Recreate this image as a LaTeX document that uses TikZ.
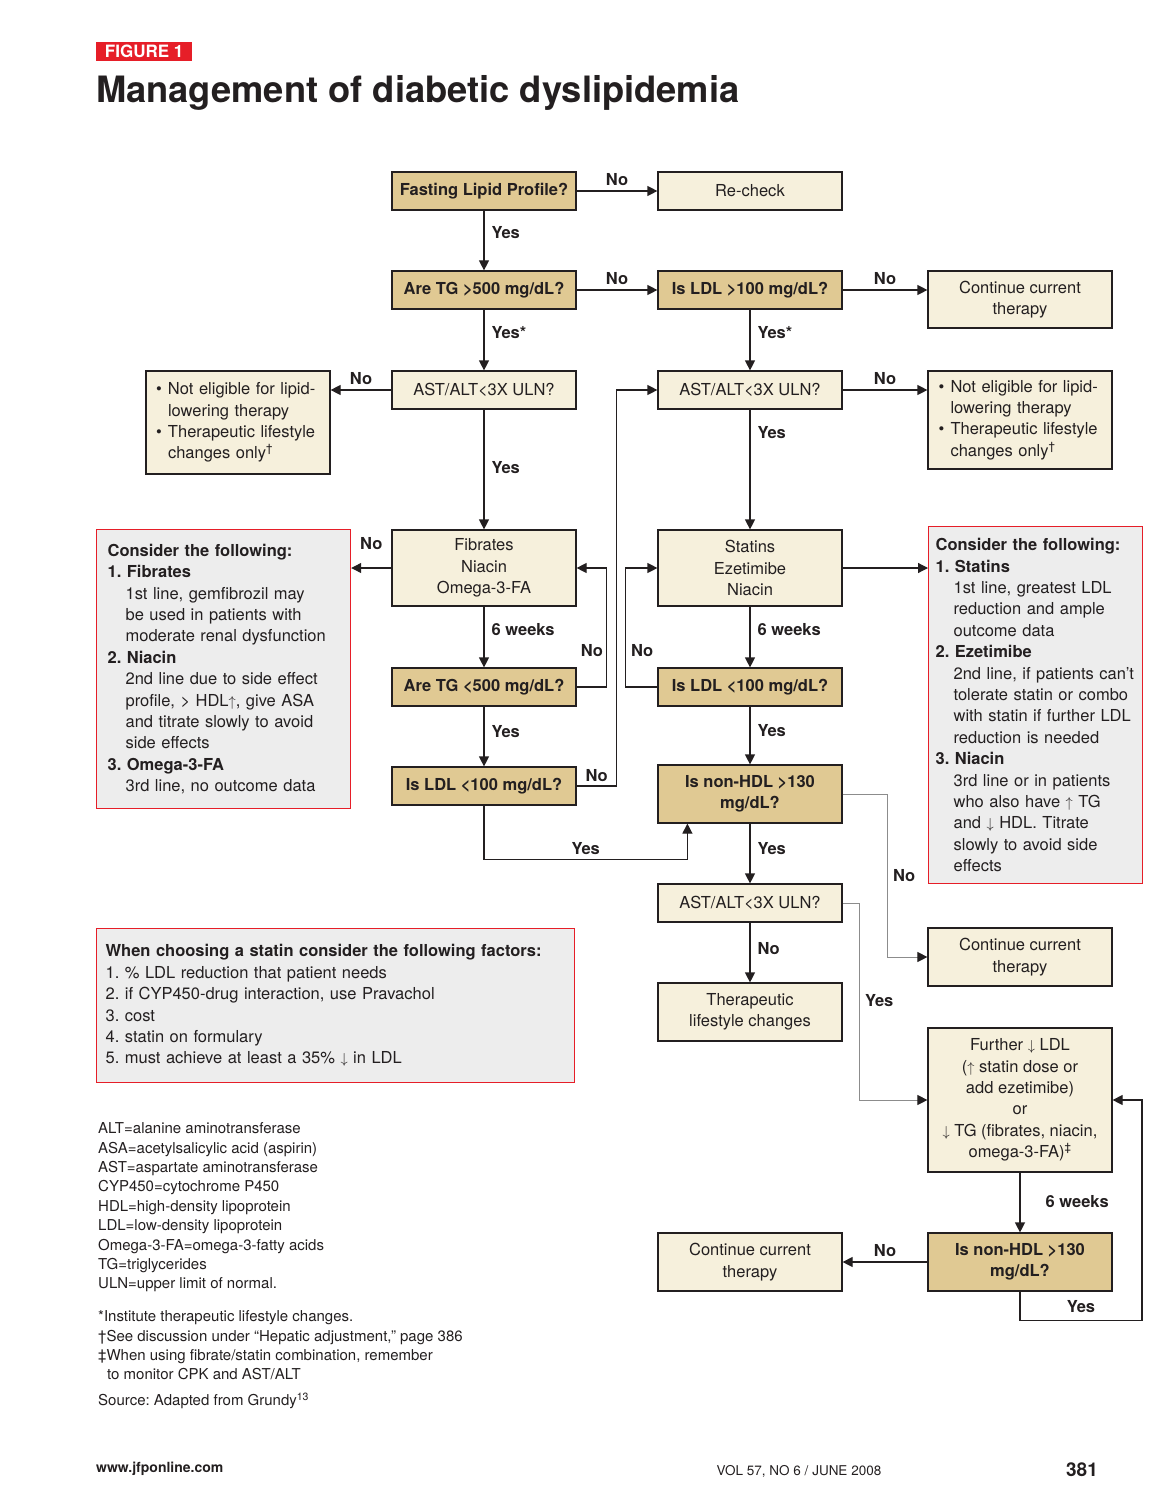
\documentclass[tikz,border=0pt]{standalone}
\usepackage{fontspec}
\setmainfont{TeX Gyre Heros}
\usetikzlibrary{positioning,calc,arrows.meta}
\frenchspacing

\definecolor{ink}{RGB}{35,31,32}
\definecolor{tanbox}{RGB}{224,201,147}
\definecolor{cream}{RGB}{246,240,220}
\definecolor{notegray}{RGB}{237,237,237}
\definecolor{redline}{RGB}{230,30,40}
\definecolor{softgray}{RGB}{140,140,140}

\newcommand{\arrup}{{\fontsize{15}{15}\selectfont$\uparrow$}}
\newcommand{\arrdn}{{\fontsize{15}{15}\selectfont$\downarrow$}}
\newcommand{\bul}{\makebox[12pt][l]{\textbullet}}
\newcommand{\subind}{\hspace*{18pt}}

\begin{document}
\begin{tikzpicture}[
    x=1pt, y=-1pt,
    box/.style={draw=ink, line width=1.2pt, inner sep=2pt, align=center, text=ink,
        minimum width=184pt, minimum height=38pt, font=\fontsize{16.5}{21.4}\selectfont},
    ask/.style={box, fill=tanbox, font=\fontsize{16.5}{21.4}\selectfont\bfseries},
    act/.style={box, fill=cream},
    note/.style={draw=redline, line width=1.2pt, fill=notegray, anchor=north west, align=left,
        text=ink, inner ysep=0pt, font=\fontsize{16.5}{21.4}\selectfont},
    arr/.style={draw=ink, line width=1.2pt, -{Triangle[length=10pt,width=10pt]}},
    soft/.style={draw=softgray, line width=1pt, -{Triangle[length=10pt,width=10pt,color=ink]}},
    lbl/.style={font=\fontsize{16.5}{20}\selectfont\bfseries, text=ink, inner sep=3pt},
    small/.style={anchor=north west, inner sep=0pt, align=left, text=ink, font=\fontsize{15}{19.4}\selectfont}
]
\useasboundingbox (0,0) rectangle (1160,1503);

% Heading
\node[fill=redline, text=white, font=\fontsize{17}{17}\selectfont\bfseries, minimum width=96pt,
    minimum height=19pt, inner sep=0pt, anchor=north west] (figtag) at (96,42) {FIGURE 1};
\node[anchor=base west, inner sep=0pt, text=ink, font=\fontsize{36.3}{36}\selectfont\bfseries]
    (title) at (96,103) {Management of diabetic dyslipidemia};

% Flow boxes
\node[ask] (fast) at (484,191) {Fasting Lipid Profile?};
\node[act] (recheck) at (750,191) {Re-check};
\node[ask] (tgHigh) at (484,290) {Are TG >500 mg/dL?};
\node[ask] (ldlHigh) at (750,290) {Is LDL >100 mg/dL?};
\node[act, minimum height=57pt] (cont1) at (1020,299.5) {Continue current\\therapy};
\node[act] (ast1) at (484,390) {AST/ALT<3X ULN?};
\node[act] (ast2) at (750,390) {AST/ALT<3X ULN?};
\node[act, align=left, text width=164pt, inner xsep=9pt, minimum height=103pt] (nel1) at (238,422.5)
    {\bul Not eligible for lipid-\\\hspace*{12pt}lowering therapy\\\bul Therapeutic lifestyle\\\hspace*{12pt}changes only\textsuperscript{\dag}};
\node[act, align=left, text width=163pt, inner xsep=10pt, minimum height=98pt] (nel2) at (1020,420)
    {\bul Not eligible for lipid-\\\hspace*{12pt}lowering therapy\\\bul Therapeutic lifestyle\\\hspace*{12pt}changes only\textsuperscript{\dag}};
\node[act, minimum height=76pt] (fib) at (484,568) {Fibrates\\Niacin\\Omega-3-FA};
\node[act, minimum height=76pt] (stat) at (750,568) {Statins\\Ezetimibe\\Niacin};
\node[ask] (tgLow) at (484,687) {Are TG <500 mg/dL?};
\node[ask] (ldlLowL) at (484,786) {Is LDL <100 mg/dL?};
\node[ask] (ldlLowR) at (750,687) {Is LDL <100 mg/dL?};
\node[ask, minimum height=58pt] (nonHdl) at (750,794) {Is non-HDL >130\\mg/dL?};
\node[act] (ast3) at (750,903) {AST/ALT<3X ULN?};
\node[act, minimum height=58pt] (tlc) at (750,1012) {Therapeutic\\lifestyle changes};
\node[act, minimum height=58pt] (cont2) at (1020,957) {Continue current\\therapy};
\node[act, minimum height=144pt] (further) at (1020,1100)
    {Further \arrdn\ LDL\\(\arrup\ statin dose or\\add ezetimibe)\\or\\\arrdn\ TG (fibrates, niacin,\\omega-3-FA)\textsuperscript{\ddag}};
\node[ask, minimum height=58pt] (nonHdl2) at (1020,1262) {Is non-HDL >130\\mg/dL?};
\node[act, minimum height=58pt] (cont3) at (750,1262) {Continue current\\therapy};

% Side notes
\node[note, minimum width=254pt, minimum height=279pt, text width=232pt, inner xsep=11pt] (cons1) at (96,529)
    {\textbf{Consider the following:}\\\textbf{1. Fibrates}\\\subind 1st line, gemfibrozil may\\\subind be used in patients with\\\subind moderate renal dysfunction\\
     \textbf{2. Niacin}\\\subind 2nd line due to side effect\\\subind profile, > HDL\arrup, give ASA\\\subind and titrate slowly to avoid\\\subind side effects\\
     \textbf{3. Omega-3-FA}\\\subind 3rd line, no outcome data};
\node[note, minimum width=214pt, minimum height=357pt, text width=200pt, inner xsep=7pt] (cons2) at (928,526)
    {\textbf{Consider the following:}\\\textbf{1. Statins}\\\subind 1st line, greatest LDL\\\subind reduction and ample\\\subind outcome data\\
     \textbf{2. Ezetimibe}\\\subind 2nd line, if patients can’t\\\subind tolerate statin or combo\\\subind with statin if further LDL\\\subind reduction is needed\\
     \textbf{3. Niacin}\\\subind 3rd line or in patients\\\subind who also have \arrup\ TG\\\subind and \arrdn\ HDL. Titrate\\\subind slowly to avoid side\\\subind effects};
\node[note, minimum width=478pt, minimum height=154pt, text width=460pt, inner xsep=9pt] (factors) at (96,928)
    {\textbf{When choosing a statin consider the following factors:}\\1. \% LDL reduction that patient needs\\2. if CYP450-drug interaction, use Pravachol\\
     3. cost\\4. statin on formulary\\5. must achieve at least a 35\% \arrdn\ in LDL};

% Straight connectors
\draw[arr] (fast) -- node[lbl, midway, above=2pt] {No} (recheck);
\draw[arr] (fast) -- node[lbl, pos=0.36, right=4pt] {Yes} (tgHigh);
\draw[arr] (tgHigh) -- node[lbl, midway, above=2pt] {No} (ldlHigh);
\draw[arr] (ldlHigh) -- node[lbl, midway, above=2pt] {No} (ldlHigh -| cont1.west);
\draw[arr] (tgHigh) -- node[lbl, pos=0.37, right=4pt] {Yes*} (ast1);
\draw[arr] (ldlHigh) -- node[lbl, pos=0.37, right=4pt] {Yes*} (ast2);
\draw[arr] (ast1) -- node[lbl, midway, above=2pt] {No} (ast1 -| nel1.east);
\draw[arr] (ast2) -- node[lbl, midway, above=2pt] {No} (ast2 -| nel2.west);
\draw[arr] (ast1) -- node[lbl, pos=0.48, right=4pt] {Yes} (fib);
\draw[arr] (ast2) -- node[lbl, pos=0.19, right=4pt] {Yes} (stat);
\draw[arr] (fib) -- node[lbl, midway, above=15pt] {No} (fib -| cons1.east);
\draw[arr] (stat) -- (stat -| cons2.west);
\draw[arr] (fib) -- node[lbl, pos=0.37, right=4pt] {6 weeks} (tgLow);
\draw[arr] (stat) -- node[lbl, pos=0.37, right=4pt] {6 weeks} (ldlLowR);
\draw[arr] (tgLow) -- node[lbl, pos=0.41, right=4pt] {Yes} (ldlLowL);
\draw[arr] (ldlLowR) -- node[lbl, pos=0.42, right=4pt] {Yes} (nonHdl);
\draw[arr] (nonHdl) -- node[lbl, pos=0.41, right=4pt] {Yes} (ast3);
\draw[arr] (ast3) -- node[lbl, pos=0.43, right=4pt] {No} (tlc);
\draw[arr] (further) -- node[lbl, pos=0.49, right=22pt] {6 weeks} (nonHdl2);
\draw[arr] (nonHdl2) -- node[lbl, midway, above=2pt] {No} (cont3);

% Loops and elbows
\draw[arr] (tgLow.east) -- ++(30,0) -- ++(0,-36) node[lbl, pos=1, left=0pt] {No} |- (fib.east);
\draw[arr] (ldlLowR.west) -- ++(-32,0) -- ++(0,-36) node[lbl, pos=1, right=2pt] {No} |- (stat.west);
\draw[arr] (ldlLowL.east) -- ++(40,0) node[lbl, midway, above=1pt] {No} |- (ast2.west);
\draw[arr] (ldlLowL.south) -- ++(0,54) -| node[lbl, pos=0.25, above=1pt] {Yes} ([xshift=30pt]nonHdl.south west);
\draw[soft] (nonHdl.east) -- ++(45,0) -- ++(0,82) node[lbl, pos=1, right=2pt] {No} |- (cont2.west);
\draw[soft] (ast3.east) -- ++(17,0) -- ++(0,98) node[lbl, pos=1, right=2pt] {Yes} |- (further.west);
\draw[arr] (nonHdl2.south) -- ++(0,29) -- ++(122,0) node[lbl, midway, above=4pt] {Yes} |- (further.east);

% Abbreviations and notes
\node[small] (abbr) at (98,1122.5) {ALT=alanine aminotransferase\\ASA=acetylsalicylic acid (aspirin)\\AST=aspartate aminotransferase\\
    CYP450=cytochrome P450\\HDL=high-density lipoprotein\\LDL=low-density lipoprotein\\Omega-3-FA=omega-3-fatty acids\\
    TG=triglycerides\\ULN=upper limit of normal.};
\node[small] (foot) at (98,1310.5) {*Institute therapeutic lifestyle changes.\\\dag See discussion under “Hepatic adjustment,” page 386\\
    \ddag When using fibrate/statin combination, remember\\\hspace*{9pt}to monitor CPK and AST/ALT};
\node[small] (src) at (98,1392.5) {Source: Adapted from Grundy\textsuperscript{13}};

% Page footer
\node[anchor=west, inner sep=0pt, text=ink, font=\fontsize{14}{14}\selectfont\bfseries] (web) at (96,1469) {www.jfponline.com};
\node[inner sep=0pt, text=ink, font=\fontsize{13.5}{14}\selectfont] (vol) at (799,1471) {VOL 57, NO 6 / JUNE 2008};
\node[anchor=east, inner sep=0pt, text=ink, font=\fontsize{19}{19}\selectfont\bfseries] (page) at (1098,1470) {381};

\end{tikzpicture}
\end{document}
